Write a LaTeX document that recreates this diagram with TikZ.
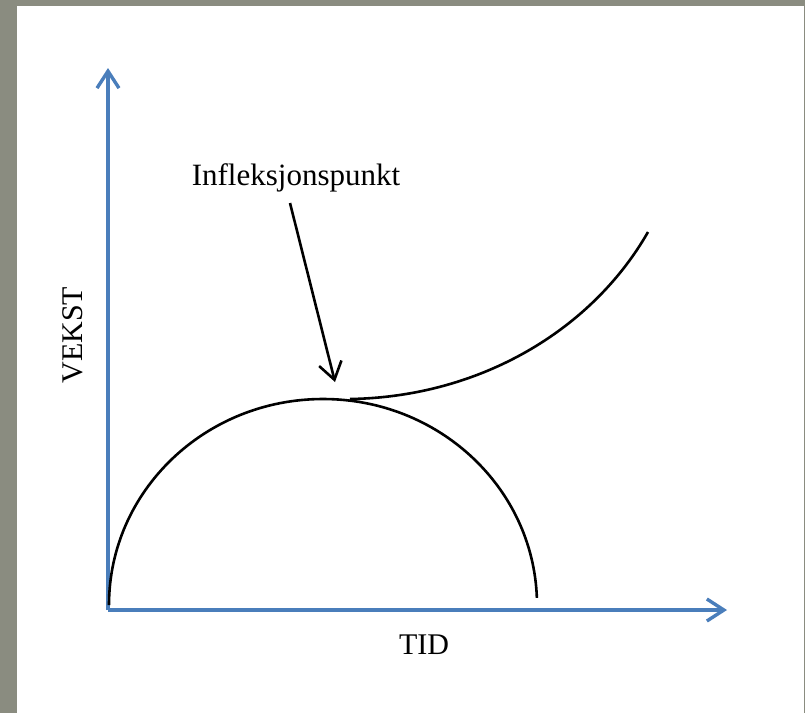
\documentclass[tikz,border=0pt]{standalone}
\usepackage{fontspec}
\setmainfont{Liberation Serif}
\usetikzlibrary{arrows.meta}
\definecolor{axisblue}{HTML}{4A7EBB}
\definecolor{bggray}{HTML}{8A8C80}
\begin{document}
\begin{tikzpicture}[x=1pt,y=-1pt,
  axis/.style={draw=axisblue,line width=3.4pt,-{Straight Barb[length=17pt,width=22pt,line width=3.4pt]}},
  curve/.style={draw=black,line width=2.6pt},
  pointer/.style={draw=black,line width=2.6pt,-{Straight Barb[length=17pt,width=23pt,line width=2.6pt]}},
  lbl/.style={font=\fontsize{30}{34}\selectfont,inner sep=0pt}]
\fill[bggray] (0,0) rectangle (805,713);
\fill[white] (17,6) rectangle (804,713);
\useasboundingbox (0,0) rectangle (805,713);
\coordinate (o) at (108,610);
\coordinate (ytop) at (108,68);
\coordinate (xend) at (727,610);
\draw[axis] (o) -- (ytop);
\draw[axis] (o) -- (xend);
\draw[curve] (109,605) arc[start angle=180,end angle=2,x radius=214,y radius=-206];
\coordinate (c1) at (350,399);
\coordinate (c2) at (648,232);
\draw[curve] (c1) .. controls (480,397) and (592,330) .. (c2);
\node[lbl,font=\fontsize{31}{34}\selectfont] (inf) at (296,178) {Infleksjonspunkt};
\coordinate (tip) at (335,382);
\draw[pointer] (290,203) -- (tip);
\node[lbl,rotate=90] (vekst) at (73,335) {VEKST};
\node[lbl] (tid) at (424,645) {TID};
\end{tikzpicture}
\end{document}
